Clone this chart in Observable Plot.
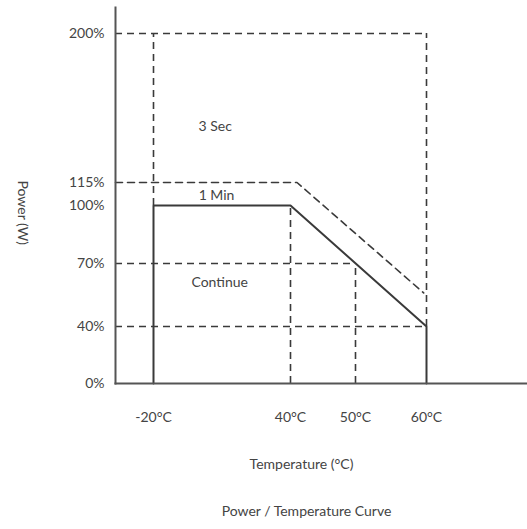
<!DOCTYPE html>
<html>
<head>
<meta charset="utf-8">
<script src="https://cdn.jsdelivr.net/npm/d3@7"></script>
<script src="https://cdn.jsdelivr.net/npm/@observablehq/plot@0.6"></script>
<style>
  html, body { margin: 0; padding: 0; background: #fff; }
  #chart svg { display: block; }
</style>
</head>
<body>
<div id="chart"></div>
<script>
// ---- Data ----
const tempTicks = [-20, 40, 50, 60];
const tempLabels = ["-20°C", "40°C", "50°C", "60°C"];
const powerTicks = [0, 40, 70, 100, 115, 200];
const powerLabels = ["0%", "40%", "70%", "100%", "115%", "200%"];

// continuous rating (solid)
const contTemp = [-20, -20, 40, 60, 60];
const contPower = [0, 100, 100, 40, 0];

// 1-minute rating (dashed, 115%)
const minTemp = [-36.6, 41, 59.6];
const minPower = [115, 115, 56];

// 3-second rating box (dashed, 200%)
const secTemp = [-36.6, 60];
const secPower = 200;

// reference guides
const guideH = [ {power: 70, to: 50}, {power: 40, to: 60} ];
const guideV = [ {temp: -20, from: 100, to: 200}, {temp: 60, from: 40, to: 200},
                 {temp: 40, from: 0, to: 100}, {temp: 50, from: 0, to: 70} ];

const notes = [
  {temp: 7, power: 147, text: "3 Sec"},
  {temp: 7.6, power: 106.5, text: "1 Min"},
  {temp: 9, power: 61, text: "Continue"}
];

// ---- Scales (schematic, piecewise) ----
const xDomain = [-36.6, -20, 40, 50, 60, 74.2];
const xRange = [115, 153, 290, 355, 426, 527];
const yDomain = [0, 40, 70, 100, 115, 200, 214.8];
const yRange = [383, 326, 263, 205, 182, 33, 7];

const cont = contTemp.map((t, i) => ({temp: t, power: contPower[i]}));
const oneMin = minTemp.map((t, i) => ({temp: t, power: minPower[i]}));
const ink = "#3a3a3a";
const dash = "7,5";
const font = "Lato, sans-serif";

const chart = Plot.plot({
  width: 527,
  height: 529,
  marginLeft: 115,
  marginRight: 0,
  marginTop: 7,
  marginBottom: 146,
  style: {fontFamily: font, fontSize: "14px", color: "#444", background: "#fff"},
  x: {type: "linear", domain: xDomain, range: xRange},
  y: {type: "linear", domain: yDomain, range: yRange},
  marks: [
    Plot.axisY({ticks: powerTicks, tickFormat: d => powerLabels[powerTicks.indexOf(d)], tickSize: 0, tickPadding: 11, label: null, fontSize: 14}),
    Plot.axisX({ticks: tempTicks, tickFormat: d => tempLabels[tempTicks.indexOf(d)], tickSize: 0, tickPadding: 29, label: null, fontSize: 14}),
    // guides
    Plot.ruleY([secPower], {x1: secTemp[0], x2: secTemp[1], stroke: ink, strokeWidth: 1.6, strokeDasharray: dash}),
    Plot.ruleY(guideH, {y: "power", x1: xDomain[0], x2: "to", stroke: ink, strokeWidth: 1.6, strokeDasharray: dash}),
    Plot.ruleX(guideV, {x: "temp", y1: "from", y2: "to", stroke: ink, strokeWidth: 1.6, strokeDasharray: dash}),
    Plot.line(oneMin, {x: "temp", y: "power", stroke: ink, strokeWidth: 1.6, strokeDasharray: dash}),
    // continuous curve
    Plot.line(cont, {x: "temp", y: "power", stroke: ink, strokeWidth: 2}),
    // axis lines
    Plot.frame({anchor: "left", stroke: "#555", strokeWidth: 2}),
    Plot.frame({anchor: "bottom", stroke: "#555", strokeWidth: 2}),
    // annotations
    Plot.text(notes, {x: "temp", y: "power", text: "text", fontSize: 14, fill: "#444"}),
    Plot.text(["Power (W)"], {frameAnchor: "left", dx: -93, dy: -15, rotate: 90, fontSize: 14, fill: "#444"}),
    Plot.text(["Temperature (°C)"], {frameAnchor: "bottom", dx: -20, dy: 85, fontSize: 14, fill: "#444"}),
    Plot.text(["Power / Temperature Curve"], {frameAnchor: "bottom", dx: -15, dy: 132, fontSize: 14, fill: "#444"})
  ]
});
document.getElementById("chart").appendChild(chart);
</script>
</body>
</html>
